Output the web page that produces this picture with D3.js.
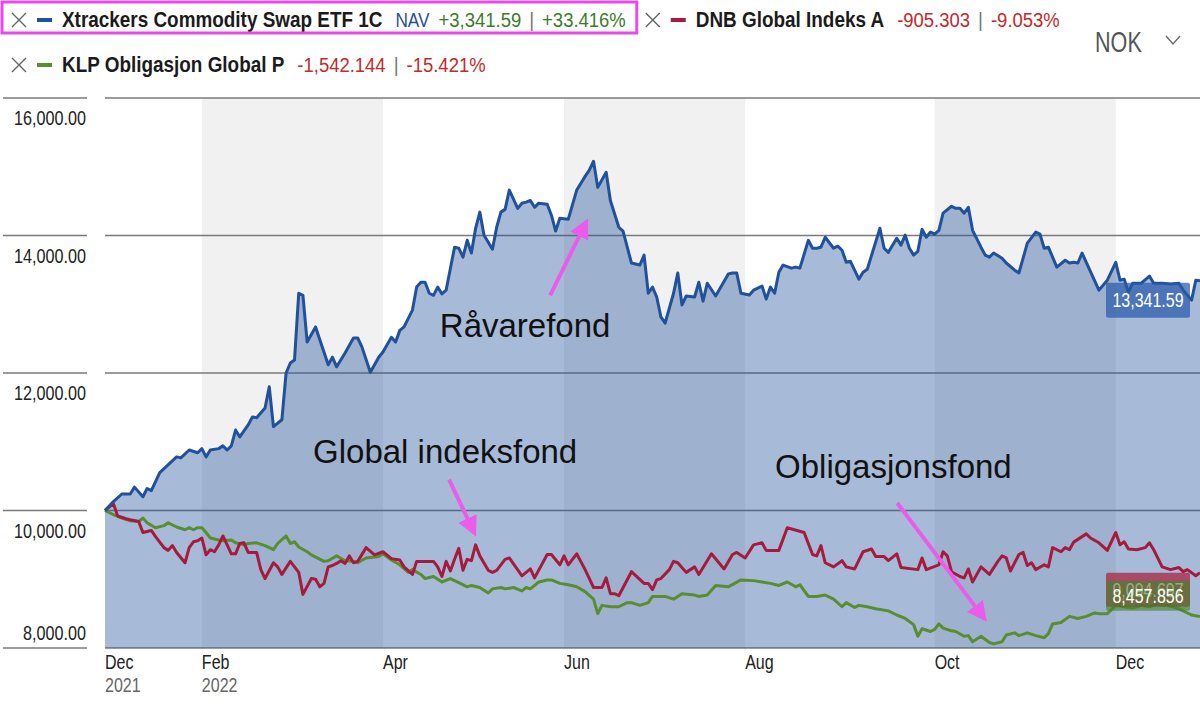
<!DOCTYPE html>
<html>
<head>
<meta charset="utf-8">
<script src="https://cdn.jsdelivr.net/npm/d3@7"></script>
<style>
body { margin: 0; background: #fff; }
svg { display: block; }
</style>
</head>
<body>
<svg width="1200" height="706"></svg>
<script>
// serier og tekster
const names = ["Xtrackers Commodity Swap ETF 1C", "DNB Global Indeks A", "KLP Obligasjon Global P"];
const colors = ["#21519b", "#a61b3d", "#5a8c30"];
const changeAbs = ["+3,341.59", "-905.303", "-1,542.144"];
const changePct = ["+33.416%", "-9.053%", "-15.421%"];
const lastLabels = ["13,341.59", "9,094.697", "8,457.856"];
const yTicks = [8000, 10000, 12000, 14000, 16000];
const monthLabels = ["Dec", "Feb", "Apr", "Jun", "Aug", "Oct", "Dec"];
const yearLabels = ["2021", "2022", "", "", "", "", ""];

// [handelsdag fra 30.12.2021, verdi]
const xtrackers = [[0,10000],[2,10130],[4,10240],[6,10240],[7,10340],[9,10200],[10,10320],[11,10290],[13,10550],[17,10780],[18,10765],[20,10880],[22,10840],[23,10900],[24,10780],[25,10880],[27,10900],[28,10940],[29,10880],[30,10940],[31,11170],[32,11070],[34,11245],[35,11360],[36,11350],[38,11490],[39,11800],[40,11220],[42,11320],[43,12000],[44,12145],[45,12190],[46,13160],[47,13130],[48,12450],[50,12670],[53,12120],[54,12230],[55,12090],[57,12290],[59,12510],[60,12510],[61,12380],[63,12010],[65,12230],[66,12305],[68,12520],[69,12450],[70,12620],[71,12670],[73,12915],[74,13250],[75,13320],[76,13320],[77,13160],[78,13130],[79,13250],[80,13150],[81,13205],[83,13830],[84,13815],[85,13685],[86,13930],[87,13745],[88,14105],[89,14340],[90,14005],[92,13800],[93,14120],[94,14340],[95,14380],[96,14660],[98,14395],[99,14470],[100,14485],[101,14510],[102,14410],[103,14470],[105,14455],[106,14295],[107,14065],[108,14250],[110,14235],[112,14660],[113,14760],[114,14860],[115,14950],[116,15080],[117,14700],[119,14920],[120,14510],[122,14120],[123,14065],[125,13600],[127,13570],[128,13715],[129,13160],[130,13250],[131,13105],[132,12815],[133,12725],[135,13160],[136,13455],[137,12990],[138,13120],[140,13105],[141,13320],[142,13045],[143,13305],[145,13120],[148,13440],[149,13455],[150,13455],[151,13160],[153,13135],[154,13205],[156,13265],[157,13075],[158,13250],[159,13160],[160,13465],[161,13570],[163,13525],[164,13540],[165,13525],[167,13930],[168,13815],[169,13815],[170,13830],[171,13975],[173,13815],[174,13845],[175,13785],[176,13610],[177,13625],[179,13365],[180,13465],[181,13510],[184,14105],[185,13815],[186,13755],[188,13960],[189,13860],[190,14005],[191,13815],[192,13715],[193,13770],[194,14090],[195,13975],[196,14050],[197,14020],[198,14075],[199,14325],[201,14425],[202,14395],[203,14395],[204,14325],[205,14410],[206,14075],[208,13830],[209,13715],[210,13685],[211,13745],[213,13670],[214,13600],[216,13495],[217,13455],[218,13670],[219,13890],[221,14050],[222,14020],[223,13815],[224,13830],[226,13540],[228,13640],[229,13600],[230,13610],[231,13600],[232,13745],[233,13610],[236,13205],[238,13350],[240,13610],[241,13350],[242,13365],[243,13175],[244,13305],[246,13305],[248,13410],[249,13305],[251,13305],[253,13295],[255,13305],[256,13205],[258,13060],[259,13350],[260,13341.59]];

const dnb = [[0,10000],[2,10100],[3,9920],[5,9880],[6,9865],[8,9840],[9,9680],[11,9710],[12,9620],[14,9460],[15,9420],[16,9490],[17,9390],[19,9240],[20,9460],[21,9545],[22,9560],[23,9600],[24,9355],[25,9430],[26,9400],[27,9500],[28,9630],[29,9500],[30,9370],[31,9370],[32,9520],[33,9530],[34,9390],[36,9390],[37,9140],[38,9010],[40,9240],[41,9180],[42,9070],[44,9260],[46,9100],[47,8780],[49,9010],[50,9000],[51,8890],[52,8940],[53,9180],[54,9200],[55,9230],[56,9270],[57,9230],[58,9340],[59,9240],[60,9260],[62,9460],[64,9355],[66,9400],[68,9300],[70,9280],[71,9180],[73,9070],[74,9260],[78,9260],[79,9180],[80,9040],[81,9260],[82,9120],[83,9290],[84,9450],[85,9130],[86,9290],[87,9270],[88,9500],[89,9340],[91,9130],[92,9100],[93,9130],[95,9290],[96,9310],[99,9050],[101,9150],[102,9020],[105,9360],[106,9360],[108,9210],[109,9340],[110,9210],[112,9370],[114,9140],[116,8880],[118,8880],[119,9020],[120,8790],[121,8790],[122,8760],[125,9110],[128,8940],[129,8940],[130,8850],[131,8990],[132,9010],[134,9140],[135,9260],[136,9240],[138,9100],[140,9180],[141,9070],[144,9370],[147,9150],[149,9360],[150,9390],[152,9310],[154,9500],[156,9530],[157,9420],[160,9420],[162,9750],[166,9680],[168,9360],[169,9340],[170,9490],[171,9240],[173,9180],[175,9270],[176,9180],[178,9150],[180,9400],[182,9440],[183,9330],[185,9330],[186,9270],[188,9370],[189,9170],[193,9140],[194,9310],[195,9140],[198,9210],[199,9400],[200,9340],[201,9110],[203,9040],[204,9020],[205,9150],[206,8960],[208,9180],[210,9070],[212,9260],[213,9340],[214,9310],[215,9120],[217,9360],[218,9390],[219,9200],[220,9240],[221,9140],[223,9210],[224,9180],[225,9460],[227,9400],[228,9460],[229,9430],[230,9540],[233,9660],[234,9600],[236,9530],[238,9420],[240,9680],[241,9500],[242,9545],[243,9440],[245,9430],[247,9460],[248,9530],[249,9430],[251,9180],[253,9140],[255,9170],[256,9110],[257,9140],[259,9050],[260,9094.697]];

const klp = [[0,10000],[2,9940],[4,9890],[6,9850],[8,9840],[9,9890],[10,9820],[12,9750],[14,9780],[15,9820],[17,9760],[19,9720],[20,9750],[21,9720],[22,9750],[23,9750],[24,9680],[25,9600],[27,9570],[28,9560],[30,9570],[31,9530],[33,9500],[34,9520],[36,9530],[38,9490],[40,9430],[41,9520],[43,9630],[44,9520],[45,9545],[46,9470],[48,9400],[49,9355],[52,9260],[53,9270],[55,9340],[57,9270],[59,9260],[60,9240],[62,9310],[65,9330],[66,9370],[68,9280],[70,9210],[72,9100],[73,9140],[75,9070],[76,9010],[78,9040],[80,8960],[82,9010],[84,8950],[86,8890],[87,8910],[89,8880],[91,8800],[92,8860],[94,8880],[95,8860],[97,8880],[99,8830],[100,8880],[101,8860],[103,8960],[105,8990],[106,8990],[108,8940],[110,8920],[112,8890],[114,8820],[116,8710],[117,8500],[118,8620],[120,8600],[122,8600],[124,8660],[125,8660],[127,8620],[129,8660],[130,8750],[133,8750],[135,8710],[137,8790],[140,8770],[141,8750],[143,8770],[145,8910],[148,8890],[151,8990],[154,8980],[156,8960],[158,8940],[160,8910],[162,8960],[164,8890],[165,8920],[167,8750],[169,8750],[171,8770],[173,8710],[175,8600],[176,8660],[178,8590],[179,8620],[181,8600],[183,8570],[186,8540],[188,8480],[190,8430],[192,8340],[193,8170],[194,8280],[196,8240],[197,8270],[198,8350],[199,8290],[201,8250],[202,8240],[204,8170],[205,8180],[206,8090],[208,8170],[210,8080],[211,8060],[213,8090],[214,8190],[216,8220],[217,8180],[219,8220],[221,8180],[223,8150],[224,8210],[225,8350],[227,8370],[229,8460],[231,8430],[233,8460],[235,8510],[236,8500],[238,8500],[240,8620],[242,8600],[244,8580],[246,8620],[248,8600],[250,8640],[252,8620],[253,8610],[255,8570],[258,8480],[260,8457.856]];

// annotasjoner: tekst, [dag, verdi] for tekst, pil fra, pil til
const notes = [
  { text: "Råvarefond", at: [79.5, 12520], from: [105.7, 13130], to: [114.7, 14250] },
  { text: "Global indeksfond", at: [49.4, 10690], from: [81.7, 10450], to: [88.1, 9620] },
  { text: "Obligasjonsfond", at: [159.1, 10475], from: [188.1, 10110], to: [209.4, 8380] }
];

const svg = d3.select("svg");
const narrow = "'Liberation Sans Narrow','Liberation Sans',Arial,sans-serif";

// tekst som presses sammen horisontalt (skalert gruppe)
function txt(x, y, str, size, weight, color, k, anchor) {
  const g = svg.append("g")
    .attr("transform", `translate(${x},${y}) scale(${k},1)`);
  const t = g.append("text")
    .attr("font-family", narrow)
    .attr("font-size", size)
    .attr("font-weight", weight)
    .attr("fill", color)
    .attr("text-anchor", anchor || "start")
    .text(str);
  return t.node().getComputedTextLength() * k;
}

// handelsdager (man-fre)
const days = d3.timeDay.range(new Date(2021, 11, 30), new Date(2022, 11, 30))
  .filter(d => d.getDay() % 6 !== 0);

const x = d3.scaleLinear().domain([0, days.length - 1]).range([105, 1200]);
const y = d3.scaleLinear().domain([8000, 16000]).range([648, 98]);

// månedsstreker: start + første handelsdag i feb, apr, jun, aug, okt, des
const tickIdx = [0];
days.forEach((d, i) => {
  if (i > 0 && d.getMonth() !== days[i - 1].getMonth() && d.getMonth() % 2 === 1) tickIdx.push(i);
});

// grå bånd
for (let k = 1; k + 1 < tickIdx.length; k += 2) {
  svg.append("rect")
    .attr("x", x(tickIdx[k]))
    .attr("y", y(16000))
    .attr("width", x(tickIdx[k + 1]) - x(tickIdx[k]))
    .attr("height", y(8000) - y(16000))
    .attr("fill", "#f1f1f1");
}

// rutenett og y-etiketter
yTicks.forEach((v, i) => {
  svg.append("line")
    .attr("x1", 3).attr("x2", 87)
    .attr("y1", y(v)).attr("y2", y(v))
    .attr("stroke", "#7a7a7a").attr("stroke-width", 1.5);
  svg.append("line")
    .attr("x1", 105).attr("x2", 1200)
    .attr("y1", y(v)).attr("y2", y(v))
    .attr("stroke", "#7a7a7a").attr("stroke-width", 1.5);
  txt(86, i === 0 ? y(v) - 8 : y(v) + 27, d3.format(",.2f")(v), 21, 400, "#222", 0.77, "end");
});

// flate under Xtrackers
svg.append("path")
  .datum(xtrackers)
  .attr("d", d3.area().x(d => x(d[0])).y0(y(8000)).y1(d => y(d[1])))
  .attr("fill", "#2356a0")
  .attr("fill-opacity", 0.4);

// linjer
const line = d3.line().x(d => x(d[0])).y(d => y(d[1]));
[[klp, 2], [dnb, 1], [xtrackers, 0]].forEach(([data, i]) => {
  svg.append("path")
    .datum(data)
    .attr("d", line)
    .attr("fill", "none")
    .attr("stroke", colors[i])
    .attr("stroke-width", 3)
    .attr("stroke-linejoin", "round");
});

// x-etiketter
tickIdx.forEach((d, i) => {
  txt(x(d), 669, monthLabels[i], 20, 400, "#222", 0.8);
  if (yearLabels[i]) txt(x(d), 692, yearLabels[i], 20, 400, "#666", 0.8);
});

// siste verdi-bokser
const boxes = [
  { top: y(13341.59) + 2, h: 35, fill: "rgba(40,90,170,0.72)" },
  { top: y(9094.697), h: 34, fill: "rgba(170,30,60,0.72)" },
  { top: y(9094.697) + 8, h: 30, fill: "rgba(70,130,40,0.62)" }
];
[0, 1, 2].forEach(i => {
  svg.append("rect")
    .attr("x", 1106).attr("y", boxes[i].top)
    .attr("width", 84).attr("height", boxes[i].h)
    .attr("rx", 2)
    .attr("fill", boxes[i].fill);
  txt(1148, boxes[i].top + boxes[i].h / 2 + 7, lastLabels[i], 20, 400, "#fff", 0.8, "middle");
});

// annotasjoner med piler
svg.append("defs").append("marker")
  .attr("id", "arrow")
  .attr("viewBox", "0 -5 10 10")
  .attr("refX", 2)
  .attr("refY", 0)
  .attr("markerWidth", 5)
  .attr("markerHeight", 5)
  .attr("orient", "auto")
  .append("path")
  .attr("d", "M0,-5L10,0L0,5Z")
  .attr("fill", "#ea5ce9");

notes.forEach(n => {
  svg.append("text")
    .attr("x", x(n.at[0]))
    .attr("y", y(n.at[1]))
    .attr("font-family", "'Liberation Sans',Arial,sans-serif")
    .attr("font-size", 33)
    .attr("fill", "#111")
    .text(n.text);
  const x1 = x(n.from[0]), y1 = y(n.from[1]);
  const x2 = x(n.to[0]), y2 = y(n.to[1]);
  const len = Math.hypot(x2 - x1, y2 - y1);
  svg.append("line")
    .attr("x1", x1).attr("y1", y1)
    .attr("x2", x2 - (x2 - x1) / len * 16)
    .attr("y2", y2 - (y2 - y1) / len * 16)
    .attr("stroke", "#ea5ce9")
    .attr("stroke-width", 4)
    .attr("marker-end", "url(#arrow)");
});

// legende
function legendItem(x0, yc, i) {
  svg.append("path")
    .attr("d", `M${x0},${yc - 7}l14,14M${x0},${yc + 7}l14,-14`)
    .attr("stroke", "#666").attr("stroke-width", 1.4);
  svg.append("line")
    .attr("x1", x0 + 25).attr("x2", x0 + 40)
    .attr("y1", yc).attr("y2", yc)
    .attr("stroke", colors[i]).attr("stroke-width", 4);
  let cx = x0 + 50;
  const base = yc + 7;
  cx += txt(cx, base, names[i], 22, 700, "#1b1b1b", 0.86) + 13;
  if (i === 0) cx += txt(cx, base, "NAV", 21, 400, "#2b4f9c", 0.82) + 9;
  const c = changeAbs[i][0] === "+" ? "#3a7d2a" : "#c42a2a";
  cx += txt(cx, base, changeAbs[i], 21, 400, c, 0.88) + 8;
  cx += txt(cx, base, "|", 21, 400, "#777", 0.9) + 8;
  cx += txt(cx, base, changePct[i], 21, 400, c, 0.88);
  return cx;
}

const end0 = legendItem(12, 20, 0);
svg.append("rect")
  .attr("x", 2).attr("y", 2)
  .attr("width", end0 + 11 - 2).attr("height", 31)
  .attr("fill", "none")
  .attr("stroke", "#e64be8")
  .attr("stroke-width", 3);
legendItem(end0 + 20, 20, 1);
legendItem(12, 65, 2);

// valuta
txt(1095, 52, "NOK", 30, 300, "#555", 0.72);
svg.append("path")
  .attr("d", "M1166,36L1173,44L1180,36")
  .attr("fill", "none")
  .attr("stroke", "#666")
  .attr("stroke-width", 1.3);
</script>
</body>
</html>
